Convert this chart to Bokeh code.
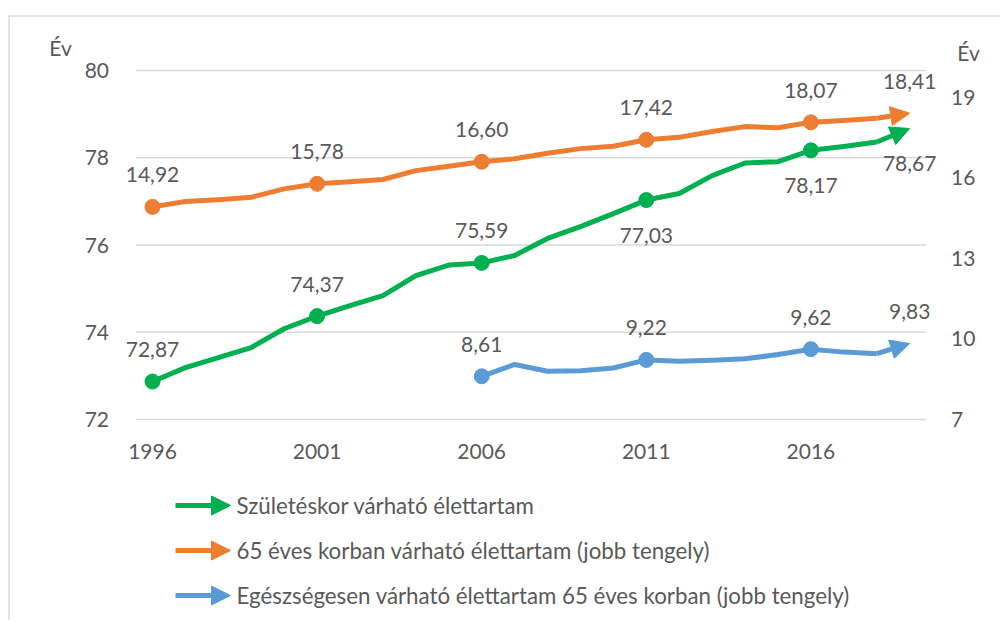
from bokeh.plotting import figure
from bokeh.models import (Range1d, LinearAxis, FixedTicker, Arrow, NormalHead)
from bokeh.core.properties import value
from bokeh.embed import file_html
from bokeh.resources import INLINE

years = list(range(1996, 2020))
birth = [72.87, 73.19, 73.42, 73.65, 74.08, 74.37, 74.61, 74.84, 75.30, 75.54,
         75.59, 75.76, 76.15, 76.42, 76.72, 77.03, 77.18, 77.59, 77.88, 77.91,
         78.17, 78.26, 78.36, 78.67]
at65 = [14.92, 15.12, 15.19, 15.28, 15.59, 15.78, 15.86, 15.94, 16.27, 16.43,
        16.60, 16.71, 16.92, 17.09, 17.18, 17.42, 17.51, 17.73, 17.91, 17.87,
        18.07, 18.14, 18.22, 18.41]
years_h = list(range(2006, 2020))
healthy = [8.61, 9.05, 8.80, 8.82, 8.92, 9.22, 9.17, 9.21, 9.26, 9.42,
           9.62, 9.51, 9.45, 9.83]
marker_years = [1996, 2001, 2006, 2011, 2016]
x_ticks = [1996, 2001, 2006, 2011, 2016]
left_ticks = [72, 74, 76, 78, 80]
right_ticks = [7, 10, 13, 16, 19]
names = ["Születéskor várható élettartam",
         "65 éves korban várható élettartam (jobb tengely)",
         "Egészségesen várható élettartam 65 éves korban (jobb tengely)"]
colors = ["#00b050", "#ed7d31", "#5b9bd5"]

FONT = "Lato"
TXT = "#595959"
W, H = 1000, 620

# layout helpers: canvas pixel -> data coordinate
def dx(px):
    return 1996 + (px - 152) / 32.92

def dyl(py):
    return 80 - (py - 70) / 43.625

def dyr(py):
    return 7 + (419 - py) / 26.846

p = figure(width=W, height=H, output_backend="svg", toolbar_location=None,
           x_range=Range1d(dx(0), dx(W)), y_range=Range1d(dyl(H), dyl(0)),
           x_axis_location=None, y_axis_location=None, min_border=0)
p.extra_y_ranges = {"right": Range1d(dyr(H), dyr(0))}
p.outline_line_color = None
p.background_fill_color = "white"
p.border_fill_color = "white"
p.grid.visible = False

XMIN, XMAX = 1995.5, 2019.5

def style_axis(ax):
    ax.axis_line_color = None
    ax.major_tick_line_color = None
    ax.minor_tick_line_color = None
    ax.major_label_text_font = FONT
    ax.major_label_text_font_size = "21px"
    ax.major_label_text_color = TXT

xax = LinearAxis(ticker=FixedTicker(ticks=x_ticks), fixed_location=72)
style_axis(xax)
xax.major_label_standoff = 18
p.add_layout(xax, "below")
lax = LinearAxis(ticker=FixedTicker(ticks=left_ticks), fixed_location=XMIN)
style_axis(lax)
lax.major_label_standoff = 21
p.add_layout(lax, "left")
rax = LinearAxis(y_range_name="right", ticker=FixedTicker(ticks=right_ticks),
                 fixed_location=XMAX)
style_axis(rax)
rax.major_label_standoff = 19
p.add_layout(rax, "right")

# gridlines
p.segment(x0=[XMIN] * len(left_ticks), x1=[XMAX] * len(left_ticks),
          y0=left_ticks, y1=left_ticks, line_color="#d9d9d9", line_width=1.5)

# chart border
bx0, bx1 = dx(8.5), dx(W + 20)
by0, by1 = dyl(15.5), dyl(H + 20)
p.line([bx1, bx0, bx0], [by0, by0, by1], line_color="#d9d9d9", line_width=1.5)

series = [(years, birth, "default"), (years, at65, "right"), (years_h, healthy, "right")]
for (xs, ys, rng), c in zip(series, colors):
    p.line(xs[:-1], ys[:-1], line_color=c, line_width=5, line_join="round",
           y_range_name=rng)
    mx = [x for x in xs if x in marker_years]
    my = [y for x, y in zip(xs, ys) if x in marker_years]
    p.scatter(mx, my, size=15, fill_color=c, line_color=c, y_range_name=rng)
    p.add_layout(Arrow(end=NormalHead(size=19, fill_color=c, line_color=c),
                       x_start=xs[-2], y_start=ys[-2], x_end=xs[-1], y_end=ys[-1],
                       line_color=c, line_width=5, y_range_name=rng))

def fmt(v):
    return f"{v:.2f}".replace(".", ",")

label_years = marker_years + [2019]

def add_labels(xs, ys, rng, above_years):
    for above in (True, False):
        lx = [x for x in xs if x in label_years and ((x in above_years) == above)]
        ly = [y for x, y in zip(xs, ys) if x in lx]
        if not lx:
            continue
        p.text(lx, ly, text=[fmt(v) for v in ly], y_range_name=rng,
               text_font=value(FONT), text_font_size="21px", text_color=TXT,
               text_align="center", text_baseline="middle",
               y_offset=-32 if above else 35)

add_labels(years, birth, "default", [1996, 2001, 2006])
add_labels(years, at65, "right", label_years)
add_labels(years_h, healthy, "right", label_years)

# axis titles
p.text([dx(60), dx(968)], [dyl(47), dyl(52)], text=["Év", "Év"],
       text_font=value(FONT), text_font_size="21px", text_color=TXT,
       text_align="center", text_baseline="middle")

# legend
leg_py = [505, 550, 595]
for name, c, py in zip(names, colors, leg_py):
    ly = dyl(py)
    p.add_layout(Arrow(end=NormalHead(size=19, fill_color=c, line_color=c),
                       x_start=dx(175), y_start=ly, x_end=dx(230), y_end=ly,
                       line_color=c, line_width=5))
    p.text([dx(236)], [ly], text=[name], text_font=value(FONT),
           text_font_size="22.3px", text_color=TXT,
           text_align="left", text_baseline="middle")

open("out.html", "w").write(file_html(p, INLINE))
